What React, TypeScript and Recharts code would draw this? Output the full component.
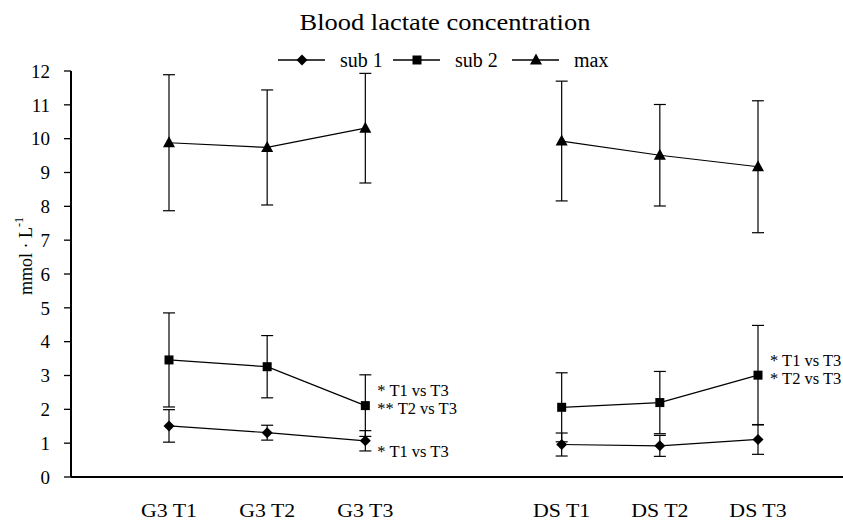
import React from 'react';
import { LineChart, Line, XAxis, YAxis, ErrorBar, Legend, LabelList } from 'recharts';

const FONT = "'Liberation Serif', 'Times New Roman', serif";

// categories (blank slot separates the two groups)
const categories = ['G3 T1', 'G3 T2', 'G3 T3', '', 'DS T1', 'DS T2', 'DS T3'];

const sub1    = [1.51, 1.31, 1.07, null, 0.96, 0.92, 1.11];
const sub1Sd  = [0.48, 0.22, 0.30, null, 0.34, 0.31, 0.44];
const sub2    = [3.46, 3.26, 2.11, null, 2.06, 2.20, 3.01];
const sub2Sd  = [1.39, 0.92, 0.91, null, 1.02, 0.92, 1.47];
const maxVals = [9.88, 9.74, 10.31, null, 9.93, 9.51, 9.17];
const maxSd   = [2.01, 1.70, 1.62, null, 1.77, 1.50, 1.95];

const yTicks = [0, 1, 2, 3, 4, 5, 6, 7, 8, 9, 10, 11, 12];

const sub2Notes = [[], [], ['* T1 vs T3', '** T2 vs T3'], [], [], [], ['* T1 vs T3', '* T2 vs T3']];
const sub1Notes = [[], [], ['* T1 vs T3'], [], [], [], []];

const data = categories.map((c, i) => ({
    cat: c,
    sub1: sub1[i], sub1Sd: sub1Sd[i],
    sub2: sub2[i], sub2Sd: sub2Sd[i],
    max: maxVals[i], maxSd: maxSd[i],
}));

const Marker = ({ kind, cx, cy }: { kind: string; cx: number; cy: number }) => {
    if (kind === 'diamond') {
        const r = 5.5;
        return <polygon points={`${cx},${cy - r} ${cx + r},${cy} ${cx},${cy + r} ${cx - r},${cy}`} fill="#000" />;
    }
    if (kind === 'square') {
        return <rect x={cx - 4.5} y={cy - 4.5} width={9} height={9} fill="#000" />;
    }
    return <polygon points={`${cx},${cy - 6.5} ${cx + 6},${cy + 4.5} ${cx - 6},${cy + 4.5}`} fill="#000" />;
};

const makeDot = (kind: string) => (props: any) => {
    const { cx, cy, index } = props;
    if (cx == null || cy == null || Number.isNaN(cy)) return <g key={`${kind}-${index}`} />;
    return <Marker key={`${kind}-${index}`} kind={kind} cx={cx} cy={cy} />;
};

const makeNotes = (notes: string[][], offsets: number[]) => (props: any) => {
    const { x, y, index } = props;
    const lines = notes[index] || [];
    if (!lines.length || y == null) return null;
    return (
        <g>
            {lines.map((t, k) => (
                <text key={k} x={x + 12} y={y + offsets[k]} fontFamily={FONT} fontSize={16.5}
                      fill="#000" dominantBaseline="central">{t}</text>
            ))}
        </g>
    );
};

const LEGEND = [
    { key: 'sub1', label: 'sub 1', kind: 'diamond' },
    { key: 'sub2', label: 'sub 2', kind: 'square' },
    { key: 'max',  label: 'max',   kind: 'triangle' },
];

const LegendRow = () => (
    <svg width={843} height={24}>
        {LEGEND.map((l, i) => {
            const x0 = [278, 393, 512][i];
            return (
                <g key={l.key}>
                    <line x1={x0} x2={x0 + 47} y1={12} y2={12} stroke="#000" strokeWidth={1.3} />
                    <Marker kind={l.kind} cx={x0 + 24} cy={12} />
                    <text x={x0 + 62} y={12} fontFamily={FONT} fontSize={20} dominantBaseline="central">{l.label}</text>
                </g>
            );
        })}
    </svg>
);

const XTick = (props: any) => {
    const { x, y, payload } = props;
    return (
        <g transform={`translate(${x},${y})`}>
            <text transform="scale(1.15,1)" textAnchor="middle" dy="0.71em"
                  fontFamily={FONT} fontSize={19} fill="#000">{payload.value}</text>
        </g>
    );
};

const YLabel = () => (
    <text transform="translate(26, 256) rotate(-90)" textAnchor="middle" dominantBaseline="central"
          fontFamily={FONT} fontSize={18} fill="#000">
        mmol · L<tspan dy={-7} fontSize={12}>-1</tspan>
    </text>
);

const App: React.FC = () => (
    <div style={{ position: 'absolute', left: 0, top: 0, width: 843, height: 522, background: '#fff' }}>
        <div style={{
            position: 'absolute', top: 9, left: 0, width: 890, textAlign: 'center',
            fontFamily: FONT, fontSize: 23, color: '#000', lineHeight: '28px',
            transform: 'scaleX(1.15)', transformOrigin: '445px 0',
        }}>
            Blood lactate concentration
        </div>
        <LineChart width={843} height={522} data={data} margin={{ top: 71, right: 0, bottom: 0, left: 0 }}>
            <XAxis dataKey="cat" height={45} padding={{ left: 98, right: 85 }}
                   axisLine={{ stroke: '#000', strokeWidth: 2 }} tickLine={false}
                   tickSize={6} tickMargin={21} interval={0} tick={<XTick />} />
            <YAxis domain={[0, 12]} ticks={yTicks} width={71} interval={0}
                   axisLine={{ stroke: '#000', strokeWidth: 2 }}
                   tickLine={{ stroke: '#000', strokeWidth: 1.3 }} tickSize={7} tickMargin={14}
                   tick={{ fontFamily: FONT, fontSize: 19, fill: '#000' }}
                   label={{ content: <YLabel /> }} />
            <Legend verticalAlign="middle" align="center" content={() => <LegendRow />}
                    wrapperStyle={{ top: 48, left: 0, width: 843 }} />
            <Line dataKey="max" stroke="#000" strokeWidth={1.2} dot={makeDot('triangle')}
                  activeDot={false} isAnimationActive={false}>
                <ErrorBar dataKey="maxSd" width={6} stroke="#000" strokeWidth={1.2} direction="y" />
            </Line>
            <Line dataKey="sub2" stroke="#000" strokeWidth={1.2} dot={makeDot('square')}
                  activeDot={false} isAnimationActive={false}>
                <ErrorBar dataKey="sub2Sd" width={6} stroke="#000" strokeWidth={1.2} direction="y" />
                <LabelList dataKey="sub2" content={makeNotes(sub2Notes, [-15, 3])} />
            </Line>
            <Line dataKey="sub1" stroke="#000" strokeWidth={1.2} dot={makeDot('diamond')}
                  activeDot={false} isAnimationActive={false}>
                <ErrorBar dataKey="sub1Sd" width={6} stroke="#000" strokeWidth={1.2} direction="y" />
                <LabelList dataKey="sub1" content={makeNotes(sub1Notes, [11])} />
            </Line>
        </LineChart>
    </div>
);

export default App;
